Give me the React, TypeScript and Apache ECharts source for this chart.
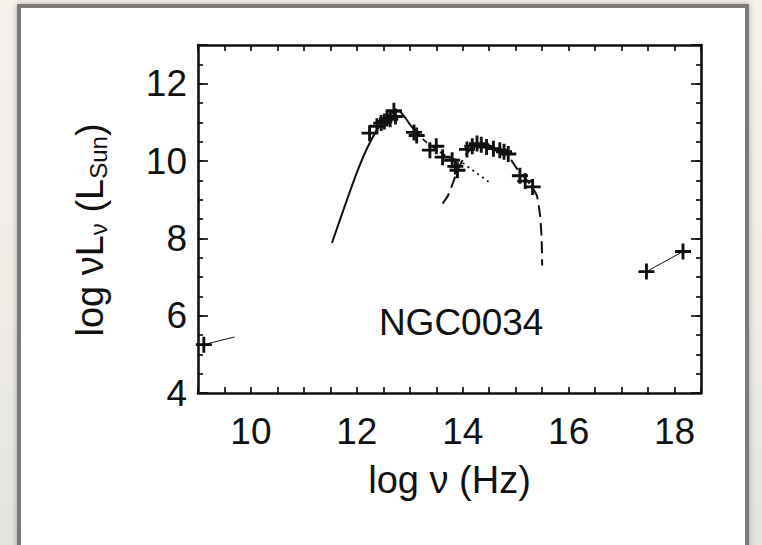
import React, { useEffect, useRef } from "react";
import * as echarts from "echarts";

// ---------- data ----------
const xMin = 9;
const xMax = 18.5;
const yMin = 4;
const yMax = 13;
const xLabelValues = [10, 12, 14, 16, 18];
const yLabelValues = [4, 6, 8, 10, 12];

// observed photometry (log nu, log nuLnu)
const sedPoints: [number, number][] = [
  [12.24, 10.72], [12.38, 10.9], [12.46, 10.98], [12.52, 11.02], [12.57, 11.1],
  [12.63, 11.08], [12.7, 11.3], [12.73, 11.15],
  [13.08, 10.74], [13.13, 10.66],
  [13.38, 10.28], [13.5, 10.38], [13.62, 10.1], [13.8, 10.02], [13.86, 9.86], [13.9, 9.76],
  [14.08, 10.3], [14.18, 10.38], [14.27, 10.45], [14.35, 10.42], [14.45, 10.36],
  [14.58, 10.32], [14.7, 10.28], [14.78, 10.24], [14.86, 10.18],
  [15.08, 9.62], [15.18, 9.48], [15.32, 9.33],
];
const radioPoints: [number, number][] = [[9.11, 5.25]];
const radioSlope: [number, number][] = [[9.11, 5.25], [9.69, 5.45]];
const xrayPoints: [number, number][] = [[17.47, 7.14], [18.16, 7.66]];

// model curves
const dustSolid: [number, number][] = [
  [11.53, 7.88], [11.75, 8.75], [12.0, 9.7], [12.2, 10.35], [12.4, 10.85],
  [12.55, 11.12], [12.7, 11.27], [12.8, 11.28], [12.9, 11.15], [13.0, 10.95], [13.1, 10.78],
];
const dustDashed: [number, number][] = [
  [13.1, 10.78], [13.3, 10.5], [13.5, 10.3], [13.7, 10.12], [13.95, 9.98],
];
const dustDotted: [number, number][] = [
  [14.0, 9.95], [14.2, 9.75], [14.5, 9.45],
];
const stellarTotal: [number, number][] = [
  [13.62, 8.9], [13.72, 9.1], [13.82, 9.45], [13.9, 9.75], [13.97, 9.95], [14.05, 10.15],
  [14.15, 10.3], [14.3, 10.4], [14.5, 10.4], [14.7, 10.3], [14.85, 10.15], [15.0, 9.85],
  [15.15, 9.6], [15.3, 9.35], [15.4, 9.1], [15.46, 8.6], [15.49, 8.0], [15.5, 7.3],
];
const galaxyName = "NGC0034";
const galaxyNamePos: [number, number] = [13.97, 5.82];

// ---------- styling ----------
const FONT = "'Liberation Sans', Arial, Helvetica, sans-serif";
const INK = "#111111";
const PLUS = "path://M4.1,0H5.9V4.1H10V5.9H5.9V10H4.1V5.9H0V4.1H4.1Z";

const hidden = {
  axisLine: { show: false },
  axisTick: { show: false },
  axisLabel: { show: false },
  splitLine: { show: false },
};

const isOn = (v: number, arr: number[]) => arr.some((a) => Math.abs(a - v) < 1e-6);

export default function App() {
  const ref = useRef<HTMLDivElement>(null);

  useEffect(() => {
    if (!ref.current) return;
    const chart = echarts.init(ref.current, undefined, { renderer: "svg" });
    const xBase = { type: "value", min: xMin, max: xMax, interval: 0.5, ...hidden };
    const yBase = { type: "value", min: yMin, max: yMax, interval: 0.5, ...hidden };
    const line = { show: true, onZero: false, lineStyle: { color: INK, width: 2.6 } };
    const tick = (len: number) => ({ show: true, inside: true, length: len, lineStyle: { color: INK, width: 1.7 } });

    const option: any = {
      animation: false,
      grid: { left: 198, right: 61, top: 45, bottom: 152, containLabel: false, outerBoundsMode: "none" },
      xAxis: [
        {
          ...xBase,
          position: "bottom",
          axisLine: line,
          axisTick: tick(6),
          axisLabel: {
            show: true,
            margin: 20,
            fontSize: 37,
            color: INK,
            fontFamily: FONT,
            formatter: (v: number) => (isOn(v, xLabelValues) ? String(v) : ""),
          },
          name: "log ν (Hz)",
          nameLocation: "middle",
          nameGap: 68,
          nameTextStyle: { fontSize: 38, color: INK, fontFamily: FONT },
        },
        { ...xBase, position: "top", axisLine: line, axisTick: tick(6) },
      ],
      yAxis: [
        {
          ...yBase,
          position: "left",
          axisLine: line,
          axisTick: tick(5),
          name: "log νL{s|ν} (L{s|Sun})",
          nameLocation: "middle",
          nameRotate: 90,
          nameGap: 88,
          nameTextStyle: {
            fontSize: 38,
            lineHeight: 40,
            color: INK,
            fontFamily: FONT,
            padding: [0, 22, 0, 0],
            rich: { s: { fontSize: 24, lineHeight: 12, verticalAlign: "bottom", color: INK, fontFamily: FONT } },
          },
        },
        {
          ...yBase,
          interval: 2,
          position: "left",
          axisTick: tick(10),
          axisLabel: {
            show: true,
            margin: 11,
            fontSize: 37,
            color: INK,
            fontFamily: FONT,
            formatter: (v: number) => (isOn(v, yLabelValues) ? String(v) : ""),
          },
        },
        { ...yBase, position: "right", axisLine: line, axisTick: tick(5) },
        { ...yBase, interval: 2, position: "right", axisTick: tick(10) },
      ],
      series: [
        {
          type: "line",
          data: dustSolid,
          showSymbol: false,
          smooth: 0.2,
          lineStyle: { color: INK, width: 2 },
          z: 2,
        },
        {
          type: "line",
          data: dustDashed,
          showSymbol: false,
          smooth: 0.2,
          lineStyle: { color: INK, width: 1.8, type: [6, 5] },
          z: 2,
        },
        {
          type: "line",
          data: dustDotted,
          showSymbol: false,
          lineStyle: { color: INK, width: 1.8, type: [2, 4] },
          z: 2,
        },
        {
          type: "line",
          data: stellarTotal,
          showSymbol: false,
          smooth: 0.2,
          lineStyle: { color: INK, width: 2, type: [12, 6] },
          z: 2,
        },
        {
          type: "line",
          data: radioSlope,
          showSymbol: false,
          lineStyle: { color: INK, width: 1 },
          z: 2,
        },
        {
          type: "line",
          data: xrayPoints,
          showSymbol: false,
          lineStyle: { color: INK, width: 1 },
          z: 2,
        },
        {
          type: "scatter",
          data: [...sedPoints, ...radioPoints, ...xrayPoints],
          symbol: PLUS,
          symbolSize: 16,
          itemStyle: { color: INK, opacity: 1 },
          z: 3,
        },
        {
          type: "scatter",
          data: [galaxyNamePos],
          symbolSize: 0,
          silent: true,
          itemStyle: { opacity: 1 },
          label: {
            show: true,
            position: "inside",
            formatter: galaxyName,
            fontSize: 37,
            color: INK,
            opacity: 1,
            fontFamily: FONT,
          },
          z: 4,
        },
      ],
    };
    chart.setOption(option);
    return () => chart.dispose();
  }, []);

  return (
    <div
      style={{
        position: "fixed",
        left: 0,
        top: 0,
        width: 762,
        height: 545,
        overflow: "hidden",
        background: "linear-gradient(180deg, #f5f2ec 0%, #f0ede7 55%, #e4e3e0 100%)",
      }}
    >
      <div
        style={{
          position: "absolute",
          left: 17,
          top: 4,
          width: 732,
          height: 640,
          boxSizing: "border-box",
          border: "4px solid #7c7a77",
          background: "#ffffff",
          boxShadow: "0 0 6px rgba(0,0,0,0.3)",
        }}
      />
      <div ref={ref} style={{ position: "absolute", left: 0, top: 0, width: 762, height: 545 }} />
    </div>
  );
}
